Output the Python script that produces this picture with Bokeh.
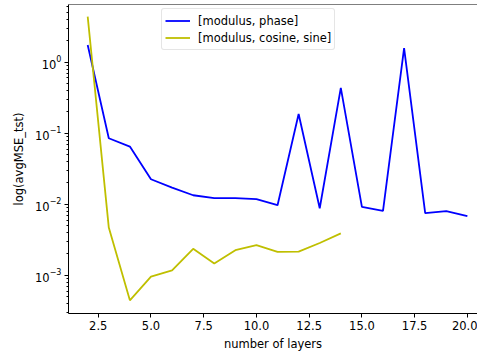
from bokeh.plotting import figure
from bokeh.models import Range1d, FixedTicker, Span, Legend, LegendItem, PrintfTickFormatter
from bokeh.embed import file_html
from bokeh.resources import INLINE

layers_phase = [2, 3, 4, 5, 6, 7, 8, 9, 10, 11, 12, 13, 14, 15, 16, 17, 18, 19, 20]
mse_phase = [1.75, 0.085, 0.065, 0.0225, 0.0172, 0.0134, 0.0122, 0.0122, 0.0118, 0.0097,
             0.187, 0.0088, 0.435, 0.0092, 0.0081, 1.58, 0.0075, 0.0080, 0.0068]
layers_cs = [2, 3, 4, 5, 6, 7, 8, 9, 10, 11, 12, 13, 14]
mse_cs = [4.4, 0.0047, 0.000445, 0.00096, 0.00117, 0.00236, 0.00147, 0.00226, 0.00266,
          0.00214, 0.00216, 0.00285, 0.0039]
x_ticks = [2.5, 5.0, 7.5, 10.0, 12.5, 15.0, 17.5, 20.0]
labels = ["[modulus, phase]", "[modulus, cosine, sine]"]

FONT = "DejaVu Sans"
y_top = 6.5

p = figure(width=477, height=353, output_backend="svg", toolbar_location=None,
           y_axis_type="log",
           x_range=Range1d(1.09, 20.48), y_range=Range1d(2.9e-4, y_top),
           min_border_left=68, min_border_right=0, min_border_top=4, min_border_bottom=40)
p.outline_line_color = None
p.xgrid.visible = False
p.ygrid.visible = False
p.background_fill_color = "white"
p.border_fill_color = "white"

p.add_layout(Span(location=y_top, dimension="width", line_color="black", line_width=1))

r1 = p.line(layers_phase, mse_phase, line_color="#0000ff", line_width=1.8)
r2 = p.line(layers_cs, mse_cs, line_color="#bfbf00", line_width=1.8)

for ax in (p.xaxis[0], p.yaxis[0]):
    ax.axis_line_color = "black"
    ax.major_tick_line_color = "black"
    ax.minor_tick_line_color = "black"
    ax.major_tick_in = 0
    ax.major_tick_out = 4
    ax.minor_tick_in = 0
    ax.minor_tick_out = 2
    ax.major_label_text_font = FONT
    ax.major_label_text_font_size = "11.5px"
    ax.major_label_text_color = "black"
    ax.axis_label_text_font = FONT
    ax.axis_label_text_font_size = "11.5px"
    ax.axis_label_text_font_style = "normal"
    ax.axis_label_text_color = "black"
    ax.major_label_standoff = 3

p.xaxis.ticker = FixedTicker(ticks=x_ticks, minor_ticks=[])
p.xaxis.formatter = PrintfTickFormatter(format="%.1f")
p.xaxis.axis_label = "number of layers"
p.xaxis.axis_label_standoff = 4
p.yaxis.axis_label = "log(avgMSE_tst)"
p.yaxis.axis_label_standoff = 6

legend = Legend(items=[LegendItem(label=labels[0], renderers=[r1]),
                       LegendItem(label=labels[1], renderers=[r2])],
                location=(93, 263), orientation="vertical")
legend.label_text_font = FONT
legend.label_text_font_size = "11.5px"
legend.label_text_color = "black"
legend.glyph_width = 25
legend.glyph_height = 17
legend.label_height = 17
legend.label_standoff = 8
legend.spacing = 0
legend.padding = 3
legend.margin = 0
legend.border_line_color = "#cccccc"
legend.border_line_width = 1
legend.border_radius = 3
legend.background_fill_alpha = 0.8
p.add_layout(legend)

open("out.html", "w").write(file_html(p, INLINE))
